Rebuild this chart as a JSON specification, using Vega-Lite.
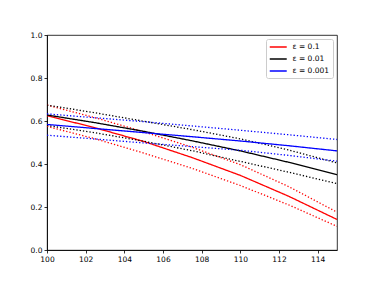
{
  "$schema": "https://vega.github.io/schema/vega-lite/v6.json",
  "width": 290,
  "height": 215,
  "autosize": "none",
  "padding": {"left": 47, "top": 35, "right": 37, "bottom": 31},
  "background": "white",
  "config": {
    "font": "DejaVu Sans",
    "view": {"stroke": "#000", "strokeWidth": 0.8},
    "axis": {
      "grid": false,
      "domainColor": "#000",
      "domainWidth": 0.8,
      "tickColor": "#000",
      "tickWidth": 0.8,
      "tickSize": 3,
      "labelFont": "DejaVu Sans",
      "labelFontSize": 7.5,
      "labelColor": "#000",
      "labelPadding": 2,
      "labelFlush": false,
      "title": null
    }
  },
  "data": {
    "values": [
      {"x": 100, "y": 0.625, "eps": "0.1", "kind": "mean"},
      {"x": 102.5, "y": 0.568, "eps": "0.1", "kind": "mean"},
      {"x": 105, "y": 0.505, "eps": "0.1", "kind": "mean"},
      {"x": 107.5, "y": 0.430, "eps": "0.1", "kind": "mean"},
      {"x": 110, "y": 0.347, "eps": "0.1", "kind": "mean"},
      {"x": 112.5, "y": 0.250, "eps": "0.1", "kind": "mean"},
      {"x": 115, "y": 0.142, "eps": "0.1", "kind": "mean"},
      {"x": 100, "y": 0.674, "eps": "0.1", "kind": "upper"},
      {"x": 102.5, "y": 0.615, "eps": "0.1", "kind": "upper"},
      {"x": 105, "y": 0.550, "eps": "0.1", "kind": "upper"},
      {"x": 107.5, "y": 0.478, "eps": "0.1", "kind": "upper"},
      {"x": 110, "y": 0.397, "eps": "0.1", "kind": "upper"},
      {"x": 112.5, "y": 0.295, "eps": "0.1", "kind": "upper"},
      {"x": 115, "y": 0.176, "eps": "0.1", "kind": "upper"},
      {"x": 100, "y": 0.575, "eps": "0.1", "kind": "lower"},
      {"x": 102.5, "y": 0.517, "eps": "0.1", "kind": "lower"},
      {"x": 105, "y": 0.451, "eps": "0.1", "kind": "lower"},
      {"x": 107.5, "y": 0.380, "eps": "0.1", "kind": "lower"},
      {"x": 110, "y": 0.300, "eps": "0.1", "kind": "lower"},
      {"x": 112.5, "y": 0.210, "eps": "0.1", "kind": "lower"},
      {"x": 115, "y": 0.110, "eps": "0.1", "kind": "lower"},
      {"x": 100, "y": 0.628, "eps": "0.01", "kind": "mean"},
      {"x": 102.5, "y": 0.592, "eps": "0.01", "kind": "mean"},
      {"x": 105, "y": 0.552, "eps": "0.01", "kind": "mean"},
      {"x": 107.5, "y": 0.508, "eps": "0.01", "kind": "mean"},
      {"x": 110, "y": 0.461, "eps": "0.01", "kind": "mean"},
      {"x": 112.5, "y": 0.408, "eps": "0.01", "kind": "mean"},
      {"x": 115, "y": 0.350, "eps": "0.01", "kind": "mean"},
      {"x": 100, "y": 0.674, "eps": "0.01", "kind": "upper"},
      {"x": 102.5, "y": 0.638, "eps": "0.01", "kind": "upper"},
      {"x": 105, "y": 0.599, "eps": "0.01", "kind": "upper"},
      {"x": 107.5, "y": 0.560, "eps": "0.01", "kind": "upper"},
      {"x": 110, "y": 0.517, "eps": "0.01", "kind": "upper"},
      {"x": 112.5, "y": 0.465, "eps": "0.01", "kind": "upper"},
      {"x": 115, "y": 0.405, "eps": "0.01", "kind": "upper"},
      {"x": 100, "y": 0.579, "eps": "0.01", "kind": "lower"},
      {"x": 102.5, "y": 0.545, "eps": "0.01", "kind": "lower"},
      {"x": 105, "y": 0.506, "eps": "0.01", "kind": "lower"},
      {"x": 107.5, "y": 0.462, "eps": "0.01", "kind": "lower"},
      {"x": 110, "y": 0.412, "eps": "0.01", "kind": "lower"},
      {"x": 112.5, "y": 0.362, "eps": "0.01", "kind": "lower"},
      {"x": 115, "y": 0.309, "eps": "0.01", "kind": "lower"},
      {"x": 100, "y": 0.584, "eps": "0.001", "kind": "mean"},
      {"x": 102.5, "y": 0.565, "eps": "0.001", "kind": "mean"},
      {"x": 105, "y": 0.546, "eps": "0.001", "kind": "mean"},
      {"x": 107.5, "y": 0.527, "eps": "0.001", "kind": "mean"},
      {"x": 110, "y": 0.507, "eps": "0.001", "kind": "mean"},
      {"x": 112.5, "y": 0.485, "eps": "0.001", "kind": "mean"},
      {"x": 115, "y": 0.461, "eps": "0.001", "kind": "mean"},
      {"x": 100, "y": 0.633, "eps": "0.001", "kind": "upper"},
      {"x": 102.5, "y": 0.615, "eps": "0.001", "kind": "upper"},
      {"x": 105, "y": 0.597, "eps": "0.001", "kind": "upper"},
      {"x": 107.5, "y": 0.577, "eps": "0.001", "kind": "upper"},
      {"x": 110, "y": 0.557, "eps": "0.001", "kind": "upper"},
      {"x": 112.5, "y": 0.536, "eps": "0.001", "kind": "upper"},
      {"x": 115, "y": 0.514, "eps": "0.001", "kind": "upper"},
      {"x": 100, "y": 0.534, "eps": "0.001", "kind": "lower"},
      {"x": 102.5, "y": 0.516, "eps": "0.001", "kind": "lower"},
      {"x": 105, "y": 0.498, "eps": "0.001", "kind": "lower"},
      {"x": 107.5, "y": 0.481, "eps": "0.001", "kind": "lower"},
      {"x": 110, "y": 0.464, "eps": "0.001", "kind": "lower"},
      {"x": 112.5, "y": 0.440, "eps": "0.001", "kind": "lower"},
      {"x": 115, "y": 0.413, "eps": "0.001", "kind": "lower"}
    ]
  },
  "mark": {"type": "line", "strokeWidth": 1.3, "clip": true},
  "encoding": {
    "x": {
      "field": "x", "type": "quantitative",
      "scale": {"domain": [100, 115], "nice": false, "zero": false},
      "axis": {"values": [100, 102, 104, 106, 108, 110, 112, 114], "format": "d"}
    },
    "y": {
      "field": "y", "type": "quantitative",
      "scale": {"domain": [0, 1], "nice": false},
      "axis": {"values": [0, 0.2, 0.4, 0.6, 0.8, 1.0], "format": ".1f"}
    },
    "detail": {"field": "kind"},
    "strokeDash": {
      "field": "kind", "type": "nominal",
      "scale": {"domain": ["mean", "upper", "lower"], "range": [[1, 0], [1.3, 2], [1.3, 2]]},
      "legend": null
    },
    "color": {
      "field": "eps", "type": "nominal",
      "scale": {"domain": ["0.1", "0.01", "0.001"], "range": ["#ff0000", "#000000", "#0000ff"]},
      "legend": {
        "title": null,
        "orient": "top-right",
        "offset": 4,
        "symbolType": "M-1,0H3",
        "symbolSize": 72,
        "symbolStrokeWidth": 1.3,
        "symbolDash": [1, 0],
        "labelOffset": 13.5,
        "labelExpr": "'ε = ' + datum.label",
        "labelFont": "DejaVu Sans",
        "labelFontSize": 7.5,
        "labelColor": "#000",
        "rowPadding": 3,
        "padding": 3,
        "strokeColor": "#ccc",
        "fillColor": "white",
        "cornerRadius": 2
      }
    }
  }
}
